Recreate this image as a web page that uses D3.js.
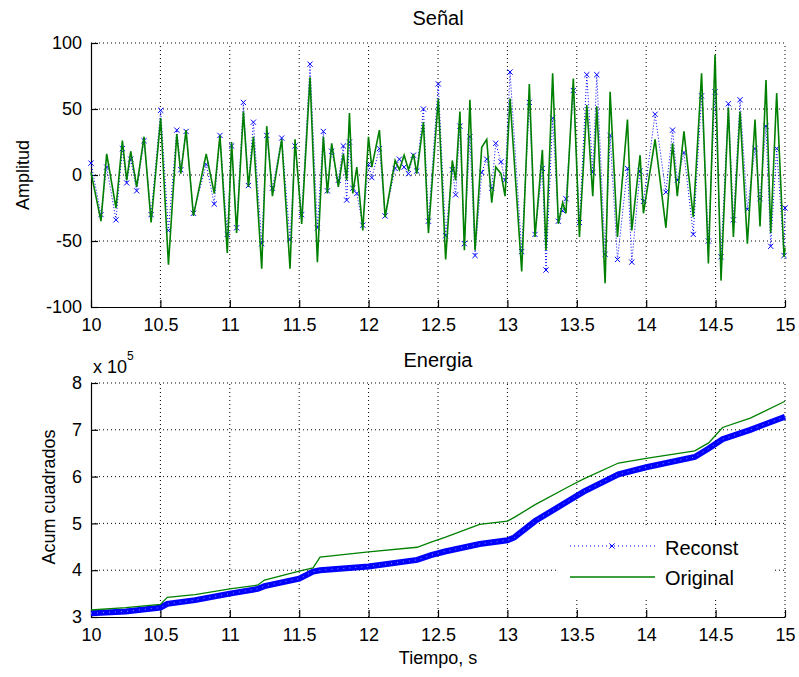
<!DOCTYPE html>
<html>
<head>
<meta charset="utf-8">
<script src="https://cdn.jsdelivr.net/npm/d3@7"></script>
<style>
  body { margin: 0; background: #fff; }
  text { font-family: "Liberation Sans", Arial, sans-serif; fill: #000; }
</style>
</head>
<body>
<script>
// time (s) of each turning point of the signal
var tSig = [10.0, 10.072, 10.113, 10.18, 10.226, 10.257, 10.286, 10.329, 10.382, 10.433,
            10.502, 10.558, 10.618, 10.647, 10.685, 10.738, 10.83, 10.888, 10.929, 10.982,
            11.013, 11.049, 11.098, 11.134, 11.17, 11.23, 11.266, 11.307, 11.374, 11.434,
            11.47, 11.518, 11.578, 11.631, 11.674, 11.703, 11.734, 11.782, 11.818, 11.842,
            11.862, 11.886, 11.915, 11.958, 11.999, 12.023, 12.078, 12.119, 12.191, 12.222,
            12.256, 12.287, 12.323, 12.347, 12.395, 12.431, 12.502, 12.555, 12.603, 12.627,
            12.658, 12.69, 12.73, 12.767, 12.815, 12.851, 12.887, 12.916, 12.954, 12.983,
            13.019, 13.103, 13.158, 13.199, 13.252, 13.278, 13.326, 13.367, 13.398, 13.422,
            13.475, 13.519, 13.572, 13.615, 13.644, 13.704, 13.74, 13.793, 13.865, 13.896,
            13.956, 13.98, 14.064, 14.142, 14.19, 14.224, 14.272, 14.339, 14.399, 14.448,
            14.496, 14.539, 14.592, 14.628, 14.676, 14.729, 14.784, 14.82, 14.863, 14.897,
            14.94, 14.993, 15.0];

// original signal amplitude at those times
var original = [2, -35, 16, -25, 26, -4, 18, -9, 29, -36,
                43, -68, 31, 1, 34, -31, 16, -14, 30, -59,
                25, -44, 48, -9, 29, -71, 37, -16, 27, -71,
                27, -37, 74, -66, 29, -14, 24, -9, 16, -4,
                47, -14, 6, -42, 29, 6, 34, -32, 11, 4,
                15, 4, 16, 1, 40, -44, 58, -64, 11, -4,
                48, -57, 57, -57, 21, 27, -21, 6, 1, -16,
                58, -73, 69, -47, 19, -57, 77, -37, -21, -29,
                73, -47, 53, -16, 52, -82, 63, -47, 42, -42,
                15, -29, 27, -40, 24, -16, 33, -32, 77, -67,
                91, -80, 51, -47, 48, -52, 42, -39, 72, -44,
                62, -62, -55];

// reconstructed signal at the same times
var reconst = [9, -30, 6, -34, 20, -6, 12, -12, 26, -30,
               49, -42, 34, 4, 33, -29, 8, -22, 30, -45,
               22, -40, 55, -8, 40, -52, 30, -10, 28, -49,
               22, -30, 84, -40, 33, -12, 18, -4, 22, -19,
               25, -10, -14, -38, 8, -2, 20, -31, 5, 12,
               6, 1, 15, 3, 50, -35, 69, -46, 4, -15,
               37, -52, 29, -61, 2, 12, -10, 24, 10, -4,
               78, -58, 55, -45, 5, -72, 43, -35, -27, -18,
               64, -36, 76, 2, 76, -60, 30, -64, 5, -66,
               3, -20, 46, -13, 34, -4, 17, -45, 60, -50,
               63, -62, 54, -34, 57, -26, 20, -18, 37, -54,
               20, -61, -25];

// cumulative sum of squares (x 10^5)
var tEn = [10.0, 10.25, 10.5, 10.55, 10.75, 11.0, 11.2, 11.25, 11.5, 11.6,
           11.65, 12.0, 12.35, 12.45, 12.55, 12.8, 13.0, 13.05, 13.2, 13.45,
           13.55, 13.8, 14.0, 14.35, 14.45, 14.55, 14.75, 15.0];
var enOriginal = [3.15, 3.2, 3.27, 3.42, 3.48, 3.6, 3.68, 3.79, 3.98, 4.05,
                  4.28, 4.39, 4.49, 4.6, 4.7, 4.98, 5.05, 5.13, 5.4, 5.8,
                  5.95, 6.29, 6.39, 6.55, 6.72, 7.05, 7.25, 7.61];
var enReconst = [3.08, 3.12, 3.2, 3.28, 3.36, 3.5, 3.6, 3.66, 3.82, 3.97,
                 4.0, 4.08, 4.22, 4.32, 4.4, 4.56, 4.64, 4.7, 5.05, 5.5,
                 5.68, 6.05, 6.2, 6.42, 6.6, 6.8, 7.0, 7.28];

var timeTicks = [10, 10.5, 11, 11.5, 12, 12.5, 13, 13.5, 14, 14.5, 15];
var ampTicks = [-100, -50, 0, 50, 100];
var enTicks = [3, 4, 5, 6, 7, 8];

var W = 799, H = 677;
var left = 91, right = 785;
var blue = "#0000ff", green = "#008000";

var svg = d3.select("body").append("svg")
            .attr("width", W)
            .attr("height", H);

var xScale = d3.scaleLinear().domain([10, 15]).range([left, right]);
var yTop = d3.scaleLinear().domain([-100, 100]).range([307, 43]);
var yBot = d3.scaleLinear().domain([3, 8]).range([617, 383]);

//dotted grid, inner ticks, left and bottom axes
function drawFrame(yScale, yTicks){
    var y0 = yScale.range()[0], y1 = yScale.range()[1];
    var g = svg.append("g");

    g.selectAll(".vg").data(timeTicks.slice(1)).enter()
     .append("line")
     .attr("x1", function(d){ return xScale(d); })
     .attr("x2", function(d){ return xScale(d); })
     .attr("y1", y0).attr("y2", y1)
     .attr("stroke", "#000").attr("stroke-dasharray", "1,3");

    g.selectAll(".hg").data(yTicks.slice(1)).enter()
     .append("line")
     .attr("x1", left).attr("x2", right)
     .attr("y1", function(d){ return yScale(d); })
     .attr("y2", function(d){ return yScale(d); })
     .attr("stroke", "#000").attr("stroke-dasharray", "1,3");

    var xAxis = d3.axisBottom(xScale).tickValues(timeTicks)
                  .tickSizeInner(-7).tickSizeOuter(0).tickPadding(11)
                  .tickFormat(function(d){ return String(d); });
    var yAxis = d3.axisLeft(yScale).tickValues(yTicks)
                  .tickSizeInner(-7).tickSizeOuter(0).tickPadding(9)
                  .tickFormat(function(d){ return String(d); });

    var ax = svg.append("g").attr("transform", "translate(0," + y0 + ")").call(xAxis);
    var ay = svg.append("g").attr("transform", "translate(" + left + ",0)").call(yAxis);
    [ax, ay].forEach(function(a){
        a.attr("font-family", null).attr("font-size", null);
        a.selectAll("text").style("font-size", "18px");
        a.selectAll("line, path").attr("stroke", "#000").attr("stroke-width", 1.2);
    });
}

drawFrame(yTop, ampTicks);
drawFrame(yBot, enTicks);

// top: Señal
var sigData = tSig.map(function(t, i){ return {t: t, o: original[i], r: reconst[i]}; });

var lineR = d3.line().x(function(d){ return xScale(d.t); }).y(function(d){ return yTop(d.r); });
var lineO = d3.line().x(function(d){ return xScale(d.t); }).y(function(d){ return yTop(d.o); });

svg.append("path").datum(sigData)
   .attr("d", lineR).attr("fill", "none")
   .attr("stroke", blue).attr("stroke-width", 1).attr("stroke-dasharray", "1,2");

var xMark = "M-2.6,-2.6L2.6,2.6M-2.6,2.6L2.6,-2.6";
svg.append("g").selectAll("path").data(sigData).enter()
   .append("path")
   .attr("transform", function(d){ return "translate(" + xScale(d.t) + "," + yTop(d.r) + ")"; })
   .attr("d", xMark).attr("stroke", blue).attr("stroke-width", 1).attr("fill", "none");

svg.append("path").datum(sigData)
   .attr("d", lineO).attr("fill", "none")
   .attr("stroke", green).attr("stroke-width", 1.6);

// bottom: Energia
var enData = tEn.map(function(t, i){ return {t: t, o: enOriginal[i], r: enReconst[i]}; });
var eR = d3.line().x(function(d){ return xScale(d.t); }).y(function(d){ return yBot(d.r); });
var eO = d3.line().x(function(d){ return xScale(d.t); }).y(function(d){ return yBot(d.o); });

svg.append("path").datum(enData)
   .attr("d", eR).attr("fill", "none")
   .attr("stroke", blue).attr("stroke-width", 6);
svg.append("path").datum(enData)
   .attr("d", eR).attr("fill", "none")
   .attr("stroke", "#8c8cff").attr("stroke-width", 1).attr("stroke-dasharray", "1,5");
svg.append("path").datum(enData)
   .attr("d", eO).attr("fill", "none")
   .attr("stroke", green).attr("stroke-width", 1.3);

// titles and labels
svg.append("text").attr("x", (left + right) / 2).attr("y", 25)
   .attr("text-anchor", "middle").style("font-size", "20px").text("Señal");
svg.append("text").attr("x", (left + right) / 2).attr("y", 367)
   .attr("text-anchor", "middle").style("font-size", "20px").text("Energia");
svg.append("text").attr("transform", "translate(29,175) rotate(-90)")
   .attr("text-anchor", "middle").style("font-size", "18px").text("Amplitud");
svg.append("text").attr("transform", "translate(55,497) rotate(-90)")
   .attr("text-anchor", "middle").style("font-size", "18px").text("Acum cuadrados");
svg.append("text").attr("x", (left + right) / 2).attr("y", 664)
   .attr("text-anchor", "middle").style("font-size", "18px").text("Tiempo, s");

var mult = svg.append("text").attr("x", 93).attr("y", 373).style("font-size", "18px");
mult.append("tspan").text("x 10");
mult.append("tspan").attr("dy", -13).style("font-size", "12px").text("5");

// legend
var leg = svg.append("g");
leg.append("rect").attr("x", 557).attr("y", 527).attr("width", 218).attr("height", 70).attr("fill", "#fff");
leg.append("line").attr("x1", 570).attr("x2", 655).attr("y1", 546).attr("y2", 546)
   .attr("stroke", blue).attr("stroke-dasharray", "1,3");
leg.append("path").attr("transform", "translate(612,546)").attr("d", xMark)
   .attr("stroke", blue).attr("fill", "none");
leg.append("text").attr("x", 665).attr("y", 555).style("font-size", "20px").text("Reconst");
leg.append("line").attr("x1", 570).attr("x2", 655).attr("y1", 577).attr("y2", 577)
   .attr("stroke", green).attr("stroke-width", 1.3);
leg.append("text").attr("x", 665).attr("y", 585).style("font-size", "20px").text("Original");
</script>
</body>
</html>
